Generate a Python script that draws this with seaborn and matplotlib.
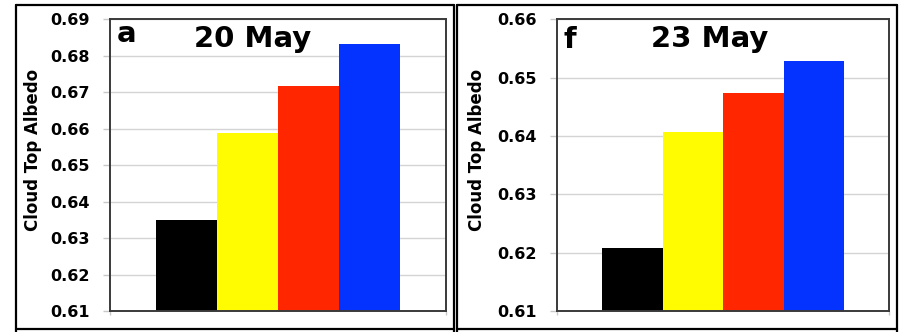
import matplotlib
matplotlib.use("Agg")
import matplotlib.pyplot as plt
from matplotlib.lines import Line2D
import seaborn as sns
import numpy as np

# Cloud top albedo for four simulations on two days
runs = ["Black", "Yellow", "Red", "Blue"]
run_colors = ["#000000", "#FFFB00", "#FF2600", "#0433FF"]
albedo_20may = [0.6350, 0.6589, 0.6717, 0.6832]
albedo_23may = [0.6208, 0.6407, 0.6474, 0.6528]
yticks_20may = [0.61, 0.62, 0.63, 0.64, 0.65, 0.66, 0.67, 0.68, 0.69]
yticks_23may = [0.61, 0.62, 0.63, 0.64, 0.65, 0.66]

sns.set_theme(style="white")
plt.rcParams["font.family"] = ["DejaVu Sans"]
plt.rcParams["font.weight"] = "bold"
plt.rcParams["text.color"] = "black"
plt.rcParams["axes.labelcolor"] = "black"

W, H = 902, 332
fig = plt.figure(figsize=(W / 100, H / 100), dpi=100)


def px_axes(x0, y0, x1, y1):
    return fig.add_axes([x0 / W, 1 - y1 / H, (x1 - x0) / W, (y1 - y0) / H])


panels = [
    dict(box=(110, 19.3, 445.5, 311), vals=albedo_20may, ticks=yticks_20may,
         letter="a", letter_xy=(0.02, 0.921), title="20 May", title_x=0.426,
         ylab_xy=(-0.203, 0.551)),
    dict(box=(557, 19.3, 889.3, 311), vals=albedo_23may, ticks=yticks_23may,
         letter="f", letter_xy=(0.021, 0.90), title="23 May", title_x=0.458,
         ylab_xy=(-0.215, 0.551)),
]

for p in panels:
    ax = px_axes(*p["box"])
    sns.barplot(x=runs, y=p["vals"], hue=runs, palette=run_colors, order=runs,
                hue_order=runs, width=1.0, saturation=1, linewidth=0,
                legend=False, ax=ax)
    ax.set_ylim(p["ticks"][0], p["ticks"][-1])
    ax.set_xlim(-1.25, 4.25)
    ax.set_yticks(p["ticks"])
    ax.set_yticklabels([f"{t:.2f}" for t in p["ticks"]], fontsize=11.5,
                       fontweight="bold")
    ax.set_xticks([-1.25, 4.25])
    ax.set_xticklabels(["", ""])
    ax.set_xlabel("")
    ax.set_axisbelow(True)
    ax.yaxis.grid(True, color="#d4d4d4", linewidth=1.0)
    ax.xaxis.grid(False)
    ax.tick_params(axis="y", which="major", left=True, length=5, width=1.0,
                   color="#c8c8c8", pad=9.5, labelcolor="black")
    ax.tick_params(axis="x", which="major", bottom=True, length=3, width=1.0,
                   color="#c8c8c8")
    for s in ax.spines.values():
        s.set_visible(True)
        s.set_color("#3a3a3a")
        s.set_linewidth(1.4)
    ax.set_ylabel("Cloud Top Albedo", fontsize=12, fontweight="bold",
                  color="black")
    ax.yaxis.set_label_coords(*p["ylab_xy"])
    ax.text(p["letter_xy"][0], p["letter_xy"][1], p["letter"],
            transform=ax.transAxes, fontsize=21, fontweight="bold",
            ha="left", va="baseline", color="black")
    ax.text(p["title_x"], 0.906, p["title"], transform=ax.transAxes,
            fontsize=21, fontweight="bold", ha="center", va="baseline",
            color="black")

# panel frames
def fig_line(xs, ys, lw=1.6):
    fig.add_artist(Line2D([x / W for x in xs], [1 - y / H for y in ys],
                          color="black", linewidth=lw))

for x0, x1 in [(16, 453.5), (456.5, 897)]:
    fig_line([x0, x1], [4.5, 4.5])
    fig_line([x0, x1], [328.8, 328.8])
    fig_line([x0, x0], [4.5, 332])
    fig_line([x1, x1], [4.5, 332])

fig.savefig("out.png", dpi=100, facecolor="white")
